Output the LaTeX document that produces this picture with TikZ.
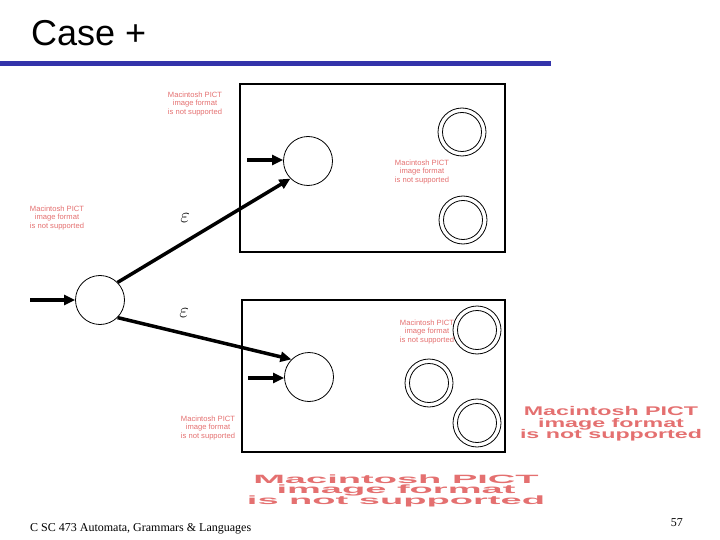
\documentclass[tikz,border=0pt]{standalone}
\usepackage{fontspec}
\setmainfont{Liberation Serif}
\setsansfont{Liberation Sans}
\usetikzlibrary{arrows.meta}
\definecolor{barblue}{RGB}{51,51,170}
\definecolor{pict}{RGB}{228,112,112}
\begin{document}
\begin{tikzpicture}[x=1pt,y=-1pt,
  state/.style={circle,draw,line width=0.8pt,minimum size=49pt,inner sep=0pt},
  inner/.style={circle,draw,line width=0.8pt,minimum size=39pt,inner sep=0pt},
  outer/.style={circle,draw,line width=0.8pt,minimum size=48pt,inner sep=0pt},
  tr/.style={line width=3.5pt,-{Triangle[length=11pt,width=10pt]},shorten >=0pt},
  frame/.style={draw,line width=2.8pt},
  pictsmall/.style={text=pict,font=\sffamily\fontsize{7.6}{8.8}\selectfont,align=center,inner sep=0pt},
  eps/.style={font=\fontsize{21}{21}\selectfont,inner sep=0pt}]
\useasboundingbox (0,0) rectangle (720,540);
% title
\node[anchor=base west,font=\sffamily\fontsize{36}{36}\selectfont,inner sep=0pt] (title) at (31,46) {Case +};
\fill[barblue] (0,61) rectangle (551,66);
% boxes
\draw[frame] (240,84) rectangle (505,252);
\draw[frame] (242,300) rectangle (505,452);
% states
\node[state] (L) at (100,300) {};
\node[state] (S1) at (308,161) {};
\node[state] (S2) at (309,377) {};
\node[outer] (A1) at (462,132) {};
\node[inner] at (A1) {};
\node[outer] (A2) at (463,220) {};
\node[inner] at (A2) {};
\node[outer] (B1) at (477,330) {};
\node[inner] at (B1) {};
\node[outer] (B2) at (429,383) {};
\node[inner] at (B2) {};
\node[outer] (B3) at (477,423) {};
\node[inner] at (B3) {};
% start arrows
\coordinate (s0) at (30,300);
\coordinate (s1) at (247,160);
\coordinate (s2) at (248,378);
\draw[tr] (s0) -- (L.west);
\draw[tr] (s1) -- (S1.west |- s1);
\draw[tr] (s2) -- (S2.west |- s2);
% epsilon transitions
\draw[tr] (L.45) -- (S1.225);
\draw[tr] (L.-45) -- (S2.135);
\node[eps] (e1) at (185,218) {$\varepsilon$};
\node[eps] (e2) at (184,313) {$\varepsilon$};
% placeholders
\node[pictsmall] (p1) at (195,104) {Macintosh PICT\\image format\\is not supported};
\node[pictsmall] (p2) at (57,218) {Macintosh PICT\\image format\\is not supported};
\node[pictsmall] (p3) at (422,172) {Macintosh PICT\\image format\\is not supported};
\node[pictsmall] (p4) at (427,332) {Macintosh PICT\\image format\\is not supported};
\node[pictsmall] (p5) at (208,428) {Macintosh PICT\\image format\\is not supported};
\node[text=pict,inner sep=0pt] (p6) at (611,424) {\resizebox{182pt}{22pt}{\sffamily\bfseries\begin{tabular}{@{}c@{}}Macintosh PICT\\[-3pt]image format\\[-3pt]is not supported\end{tabular}}};
\node[text=pict,inner sep=0pt] (p7) at (396,491) {\resizebox{298pt}{21pt}{\sffamily\bfseries\begin{tabular}{@{}c@{}}Macintosh PICT\\[-3pt]image format\\[-3pt]is not supported\end{tabular}}};
% footer
\node[anchor=base west,font=\fontsize{12}{12}\selectfont,inner sep=0pt] (foot) at (30,531) {C SC 473 Automata, Grammars \& Languages};
\node[anchor=base east,font=\fontsize{12}{12}\selectfont,inner sep=0pt] (page) at (683,526) {57};
\end{tikzpicture}
\end{document}
